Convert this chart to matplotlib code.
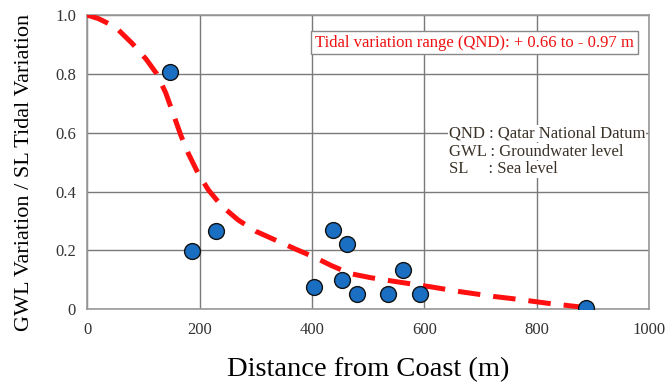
import numpy as np
import matplotlib.pyplot as plt

# observed points
dist = [148, 187, 230, 404, 437, 454, 462, 481, 536, 562, 593, 888]
ratio = [0.806, 0.197, 0.265, 0.076, 0.269, 0.099, 0.221, 0.051, 0.051, 0.133, 0.051, 0.003]

# fitted curve
curve_x = [0, 20, 50, 80, 105, 124, 140, 154, 167, 180, 198, 216, 240, 269, 300, 335, 370,
           403, 435, 468, 505, 545, 580, 615, 655, 695, 725, 765, 820, 885]
curve_y = [1.0, 0.988, 0.96, 0.904, 0.85, 0.80, 0.735, 0.66, 0.59, 0.53, 0.46, 0.405, 0.35,
           0.303, 0.265, 0.235, 0.205, 0.178, 0.148, 0.121, 0.107, 0.095, 0.085, 0.075,
           0.062, 0.051, 0.043, 0.034, 0.02, 0.006]

xticks = [0, 200, 400, 600, 800, 1000]
yticks = [0, 0.2, 0.4, 0.6, 0.8, 1.0]
ytick_labels = ["0", "0.2", "0.4", "0.6", "0.8", "1.0"]

plt.rcParams['font.family'] = ['Liberation Serif', 'DejaVu Serif']

fig = plt.figure(figsize=(6.65, 3.86), dpi=100)
ax = fig.add_axes([0.131, 0.199, 0.845, 0.762])

ax.plot(curve_x, curve_y, color='#ff1010', lw=3.6, dashes=(4.5, 2.6), zorder=3)
ax.scatter(dist, ratio, s=130, color='#1b6fc2', edgecolor='#111111', linewidth=1.0, zorder=4)

ax.set_xlim(0, 1000)
ax.set_ylim(0, 1.0)
ax.set_xticks(xticks)
ax.set_yticks(yticks)
ax.set_yticklabels(ytick_labels)
ax.tick_params(length=0, labelsize=12, labelcolor='#333333')
ax.tick_params(axis='x', pad=9)
ax.tick_params(axis='y', pad=8)
ax.grid(True, color='#7a7a7a', lw=1.0)
ax.set_axisbelow(True)
for s in ax.spines.values():
    s.set_color('#999999')
    s.set_linewidth(1.2)

ax.set_xlabel("Distance from Coast (m)", fontsize=20.5, labelpad=14)
ax.set_ylabel("GWL Variation / SL Tidal Variation", fontsize=16)
ax.yaxis.set_label_coords(-0.094, 0.466)

ax.text(0.973, 0.906, "Tidal variation range (QND): + 0.66 to - 0.97 m",
        transform=ax.transAxes, ha='right', va='center', fontsize=12, color='#ee1111',
        bbox=dict(boxstyle='square,pad=0.22', fc='white', ec='#888888', lw=1.0), zorder=5)

legend_lines = ["QND : Qatar National Datum", "GWL : Groundwater level", "SL     : Sea level"]
for i, t in enumerate(legend_lines):
    ax.text(0.644, 0.597 - i * 0.061, t, transform=ax.transAxes, ha='left', va='center',
            fontsize=12, color='#3a3228',
            bbox=dict(boxstyle='square,pad=0.05', fc='white', ec='none'), zorder=5)

fig.savefig("out.png", dpi=100)
